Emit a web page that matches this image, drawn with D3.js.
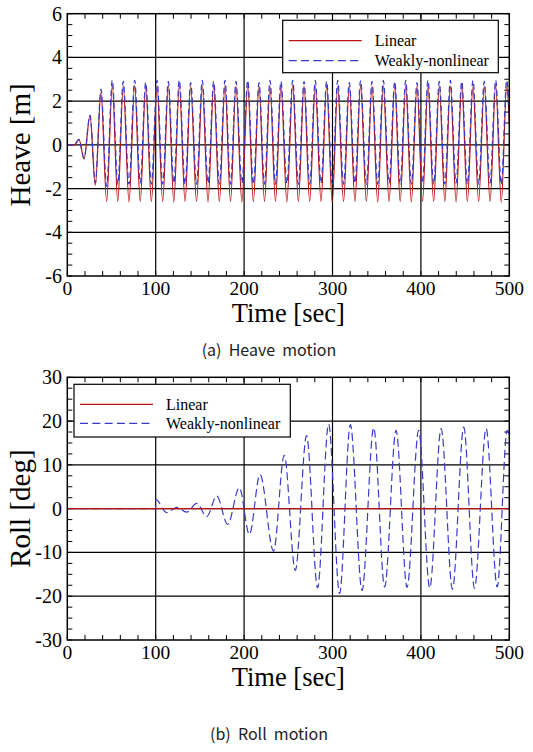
<!DOCTYPE html>
<html><head><meta charset="utf-8">
<script src="https://cdn.jsdelivr.net/npm/d3@7"></script>
<style>body{margin:0;background:#fff}</style>
</head><body>
<svg id="c" width="533" height="752"></svg>
<script>
// ---------- data ----------
const timeTicks = [0, 100, 200, 300, 400, 500];
const heaveTicks = [-6, -4, -2, 0, 2, 4, 6];
const rollTicks = [-30, -20, -10, 0, 10, 20, 30];
const seriesNames = ["Linear", "Weakly-nonlinear"];

// heave: extrema (time [s])
const heaveTime = [0, 8, 13.2, 18.9, 25.7, 31.7,
  38.1, 44.5, 50.9, 57.1, 63.3, 69.8, 76.2, 82.5, 88.7, 95.1,
  101.5, 107.9, 114.3, 120.5, 126.7, 133.2, 139.6, 146.2, 152.7, 159.2,
  165.6, 172.0, 178.4, 184.6, 190.8, 197.5, 204.1, 210.5, 216.9, 223.1,
  229.3, 235.5, 241.7, 248.4, 255.0, 261.4, 267.8, 274.2, 280.5, 287.0,
  293.4, 299.7, 305.9, 312.5, 319.0, 325.4, 331.8, 338.3, 344.7, 351.1,
  357.5, 364.0, 370.4, 376.6, 382.8, 389.2, 395.6, 401.8, 408.0, 414.4,
  420.8, 427.1, 433.3, 439.8, 446.2, 452.6, 458.9, 465.3, 471.7, 478.2,
  484.6, 490.9, 497.1, 500];
const heaveLinear = [0, 0, 0.25, -0.65, 1.35, -1.85,
  2.4, -2.6, 2.7, -2.6, 2.7, -2.62, 2.72, -2.6, 2.68, -2.6,
  2.7, -2.6, 2.72, -2.62, 2.7, -2.6, 2.7, -2.6, 2.68, -2.62,
  2.7, -2.6, 2.72, -2.6, 2.7, -2.62, 2.7, -2.6, 2.7, -2.6,
  2.68, -2.6, 2.7, -2.62, 2.72, -2.6, 2.7, -2.6, 2.7, -2.6,
  2.7, -2.62, 2.68, -2.6, 2.7, -2.6, 2.72, -2.6, 2.7, -2.62,
  2.7, -2.6, 2.7, -2.6, 2.68, -2.62, 2.7, -2.6, 2.72, -2.6,
  2.7, -2.6, 2.7, -2.62, 2.7, -2.6, 2.68, -2.6, 2.7, -2.6,
  2.72, -2.62, 2.7, 1.0];
const heaveNonlinear = [0, 0, 0.25, -0.6, 1.35, -1.75,
  2.55, -1.9, 2.95, -1.8, 2.9, -1.8, 2.95, -1.75, 2.85, -1.8,
  2.95, -1.8, 2.9, -1.75, 2.95, -1.8, 2.85, -1.8, 2.95, -1.75,
  2.9, -1.8, 2.95, -1.8, 2.9, -1.75, 2.95, -1.8, 2.85, -1.8,
  2.95, -1.8, 2.9, -1.75, 2.95, -1.8, 2.9, -1.8, 2.95, -1.75,
  2.9, -1.8, 2.95, -1.8, 2.85, -1.75, 2.95, -1.8, 2.9, -1.8,
  2.95, -1.75, 2.9, -1.8, 2.95, -1.8, 2.85, -1.75, 2.95, -1.8,
  2.9, -1.8, 2.95, -1.75, 2.9, -1.8, 2.95, -1.8, 2.9, -1.75,
  2.95, -1.8, 2.95, 1.3];

// roll
const rollLinTime = [0, 500];
const rollLinear = [0, 0];
const rollTime = [0, 99.8, 100, 112.4, 123.8, 135.1, 146.4, 157.7, 169.0, 181.4,
  194.6, 206.0, 218.0, 233.3, 245.4, 257.9, 270.7, 283.1, 295.6, 308.0,
  320.2, 333.4, 346.6, 359.0, 371.9, 384.3, 397.5, 410.0, 422.9, 435.7,
  448.5, 460.6, 473.8, 486.3, 497.6, 500];
const rollNonlinear = [0, 0, 2.1, -0.9, 0.3, -0.8, 1.2, -1.8, 2.9, -3.6,
  4.8, -5.9, 7.8, -9.7, 12.2, -14.1, 16.7, -18.1, 19.3, -19.4,
  19.2, -18.7, 18.5, -17.9, 17.9, -18.0, 17.9, -18.1, 18.3, -18.4,
  18.6, -18.2, 18.3, -17.9, 17.9, 16.8];

// ---------- drawing ----------
const RED = "#bb1010", BLUE = "#3a3ac8";
const SERIF = "'Liberation Serif','Times New Roman',serif";
const svg = d3.select("#c");

function panel(opt) {
  const x = d3.scaleLinear().domain([0, 500]).range([67.3, 509.3]);
  const y = d3.scaleLinear().domain([opt.yTicks[0], opt.yTicks[opt.yTicks.length - 1]]).range([opt.bottom, opt.top]);
  const g = svg.append("g");
  const id = "clip" + opt.key;
  svg.append("clipPath").attr("id", id).append("rect")
    .attr("x", x.range()[0]).attr("y", opt.top)
    .attr("width", x.range()[1] - x.range()[0]).attr("height", opt.bottom - opt.top);

  // grid
  g.selectAll(".gx").data(timeTicks.slice(1, -1)).enter().append("line")
    .attr("x1", d => x(d)).attr("x2", d => x(d)).attr("y1", opt.top).attr("y2", opt.bottom)
    .attr("stroke", "#000").attr("stroke-width", 1.2);
  g.selectAll(".gy").data(opt.yTicks.slice(1, -1)).enter().append("line")
    .attr("y1", d => y(d)).attr("y2", d => y(d)).attr("x1", x.range()[0]).attr("x2", x.range()[1])
    .attr("stroke", "#000").attr("stroke-width", 1.2);

  // minor ticks (inside, all four sides)
  const xm = d3.range(0, 500.001, 20);
  const ys = opt.yTicks[1] - opt.yTicks[0];
  const ym = d3.range(opt.yTicks[0], opt.yTicks[opt.yTicks.length - 1] + 1e-6, ys / 4);
  const tl = 5;
  xm.forEach(v => {
    g.append("line").attr("x1", x(v)).attr("x2", x(v)).attr("y1", opt.bottom).attr("y2", opt.bottom - tl).attr("stroke", "#000").attr("stroke-width", 1);
    g.append("line").attr("x1", x(v)).attr("x2", x(v)).attr("y1", opt.top).attr("y2", opt.top + tl).attr("stroke", "#000").attr("stroke-width", 1);
  });
  ym.forEach(v => {
    g.append("line").attr("y1", y(v)).attr("y2", y(v)).attr("x1", x.range()[0]).attr("x2", x.range()[0] + tl).attr("stroke", "#000").attr("stroke-width", 1);
    g.append("line").attr("y1", y(v)).attr("y2", y(v)).attr("x1", x.range()[1]).attr("x2", x.range()[1] - tl).attr("stroke", "#000").attr("stroke-width", 1);
  });

  // series
  const line = d3.line().x(d => x(d[0])).y(d => y(d[1])).curve(d3.curveMonotoneX);
  const pg = g.append("g").attr("clip-path", `url(#${id})`);
  opt.series.forEach(s => {
    const pts = s.t.map((t, i) => [t, s.v[i]]);
    pg.append("path").attr("d", line(pts)).attr("fill", "none")
      .attr("stroke", s.color).attr("stroke-width", 1.2)
      .attr("stroke-dasharray", s.dash || null);
  });

  // frame
  g.append("rect").attr("x", x.range()[0]).attr("y", opt.top)
    .attr("width", x.range()[1] - x.range()[0]).attr("height", opt.bottom - opt.top)
    .attr("fill", "none").attr("stroke", "#000").attr("stroke-width", 1.5);

  // tick labels
  g.selectAll(".tx").data(timeTicks).enter().append("text")
    .attr("x", d => x(d)).attr("y", opt.bottom + 18.5).attr("text-anchor", "middle")
    .attr("font-family", SERIF).attr("font-size", 19.5).text(d => d);
  g.selectAll(".ty").data(opt.yTicks).enter().append("text")
    .attr("x", 62).attr("y", d => y(d) + 7).attr("text-anchor", "end")
    .attr("font-family", SERIF).attr("font-size", 20).text(d => d);

  // titles
  g.append("text").attr("x", (x.range()[0] + x.range()[1]) / 2).attr("y", opt.bottom + 46)
    .attr("text-anchor", "middle").attr("font-family", SERIF).attr("font-size", 26.5).text("Time [sec]");
  g.append("text").attr("transform", `translate(30,${(opt.top + opt.bottom) / 2}) rotate(-90)`)
    .attr("text-anchor", "middle").attr("font-family", SERIF).attr("font-size", 29).text(opt.yTitle);

  // legend
  const L = opt.legend;
  g.append("rect").attr("x", L.x).attr("y", L.y).attr("width", L.w).attr("height", L.h)
    .attr("fill", "#fff").attr("stroke", "#000").attr("stroke-width", 1.2);
  seriesNames.forEach((n, i) => {
    const yy = L.y + L.r0 + i * L.dr;
    g.append("line").attr("x1", L.x + 6).attr("x2", L.x + 79).attr("y1", yy).attr("y2", yy)
      .attr("stroke", i === 0 ? RED : BLUE).attr("stroke-width", 1.2)
      .attr("stroke-dasharray", i === 0 ? null : "8,4.3");
    g.append("text").attr("x", L.x + 92).attr("y", yy + 5.5).attr("font-family", SERIF)
      .attr("font-size", 16).text(n);
  });

  // caption
  svg.append("text").attr("x", 269).attr("y", opt.capY).attr("text-anchor", "middle")
    .attr("font-family", "'Noto Sans CJK KR','Noto Sans',sans-serif").attr("font-size", 16)
    .attr("fill", "#222").attr("xml:space", "preserve").style("white-space", "pre").text(opt.caption);
}

panel({
  key: "a", top: 13.7, bottom: 276, yTicks: heaveTicks, yTitle: "Heave [m]",
  series: [
    { t: heaveTime, v: heaveLinear, color: RED },
    { t: heaveTime, v: heaveNonlinear, color: BLUE, dash: "6,3.5" }
  ],
  legend: { x: 282.7, y: 20.3, w: 215.6, h: 52.4, r0: 20.4, dr: 20 },
  caption: "(a)  Heave  motion", capY: 356
});

panel({
  key: "b", top: 377.3, bottom: 640, yTicks: rollTicks, yTitle: "Roll [deg]",
  series: [
    { t: rollTime, v: rollNonlinear, color: BLUE, dash: "8,4" },
    { t: rollLinTime, v: rollLinear, color: RED }
  ],
  legend: { x: 74, y: 384.3, w: 216.3, h: 52.7, r0: 20, dr: 19 },
  caption: "(b)  Roll  motion", capY: 740
});
</script>
</body></html>
